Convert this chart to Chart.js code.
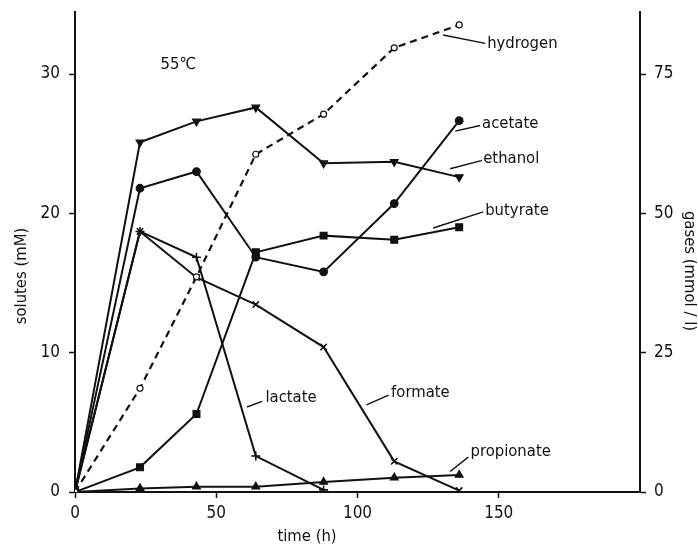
<!DOCTYPE html>
<html>
<head>
<meta charset="utf-8">
<script src="https://cdn.jsdelivr.net/npm/chart.js@4.4.1/dist/chart.umd.min.js"></script>
<style>
    body { margin: 0; background: #fff; }
    canvas { display: block; }
</style>
</head>
<body>
<canvas id="fermentation-chart" width="698" height="549"></canvas>
<script>
// データ (time in h, solutes in mM, hydrogen in mmol/l)
const times = [0, 23, 43, 64, 88, 113, 136];
const hydrogen = [0, 18.6, 38.6, 60.6, 67.8, 79.7, 83.8];
const acetate = [0, 21.8, 23.0, 16.85, 15.8, 20.7, 26.65];
const ethanol = [0, 25.1, 26.6, 27.6, 23.6, 23.7, 22.6];
const butyrate = [0, 1.77, 5.6, 17.2, 18.4, 18.1, 19.0];
const lactate = [0, 18.7, 16.85, 2.58, 0.15];
const formate = [0, 18.7, 15.4, 13.45, 10.4, 2.2, 0.1];
const propionate = [0, 0.26, 0.38, 0.38, 0.72, 1.03, 1.22];

// 目盛り
const xTicks = [0, 50, 100, 150];
const soluteTicks = [0, 10, 20, 30];
const gasTicks = [0, 25, 50, 75];

// 系列ラベル (text position and leader line, in data units: x h, y mM)
const seriesLabels = [
    { text: 'hydrogen', x: 145.9, y: 32.2, from: [130.3, 32.8], to: [145.2, 32.2] },
    { text: 'acetate', x: 144.1, y: 26.4, from: [134.6, 25.9], to: [143.4, 26.3] },
    { text: 'ethanol', x: 144.5, y: 23.9, from: [132.8, 23.2], to: [144.1, 23.8] },
    { text: 'butyrate', x: 145.2, y: 20.2, from: [126.8, 18.95], to: [144.5, 20.1] },
    { text: 'lactate', x: 67.4, y: 6.75, from: [60.9, 6.1], to: [66.2, 6.5] },
    { text: 'formate', x: 111.9, y: 7.1, from: [103.2, 6.25], to: [111.0, 6.96] },
    { text: 'propionate', x: 140.0, y: 2.87, from: [132.8, 1.47], to: [139.2, 2.5] },
    { text: '55\u2103', x: 30.3, y: 30.65 }
];

const FONT = "'DejaVu Sans Condensed', 'DejaVu Sans', sans-serif";
const INK = '#111';

function toPoints(values) {
    return values.map((v, i) => ({ x: times[i], y: v }));
}

function series(label, values, style, axis) {
    return Object.assign({
        label: label,
        data: toPoints(values),
        yAxisID: axis || 'y',
        borderColor: INK,
        backgroundColor: INK,
        pointBorderColor: INK,
        pointBackgroundColor: INK,
        borderWidth: 2,
        pointBorderWidth: 1.2,
        tension: 0
    }, style);
}

// ラベルと軸タイトルの描画
const labelPlugin = {
    id: 'seriesLabels',
    afterDraw(chart) {
        const ctx = chart.ctx;
        const xs = chart.scales.x;
        const ys = chart.scales.y;
        ctx.save();
        ctx.fillStyle = INK;
        ctx.strokeStyle = INK;
        ctx.lineWidth = 1.4;
        ctx.font = '16.5px ' + FONT;
        ctx.textAlign = 'left';
        ctx.textBaseline = 'middle';
        seriesLabels.forEach(l => {
            if (l.from) {
                ctx.beginPath();
                ctx.moveTo(xs.getPixelForValue(l.from[0]), ys.getPixelForValue(l.from[1]));
                ctx.lineTo(xs.getPixelForValue(l.to[0]), ys.getPixelForValue(l.to[1]));
                ctx.stroke();
            }
            ctx.fillText(l.text, xs.getPixelForValue(l.x), ys.getPixelForValue(l.y));
        });

        // 軸タイトル
        ctx.textAlign = 'center';
        ctx.fillText('time (h)', 307, 537);
        ctx.save();
        ctx.translate(22, 276);
        ctx.rotate(-Math.PI / 2);
        ctx.fillText('solutes (mM)', 0, 0);
        ctx.restore();
        ctx.save();
        ctx.translate(689, 271);
        ctx.rotate(Math.PI / 2);
        ctx.fillText('gases (mmol / l)', 0, 0);
        ctx.restore();
        ctx.restore();
    }
};

function axisStyle(tickValues, size, fitProp, pad) {
    return {
        grid: { display: true, drawOnChartArea: false, drawTicks: true, tickLength: 6, tickWidth: 1.5, tickColor: INK },
        border: { display: true, color: INK, width: 2 },
        ticks: { color: INK, font: { size: 17, family: FONT }, padding: pad, autoSkip: false, maxRotation: 0 },
        afterBuildTicks: scale => { scale.ticks = tickValues.map(v => ({ value: v })); },
        afterFit: scale => {
            scale[fitProp] = size;
            scale.paddingTop = 0;
            scale.paddingBottom = 0;
            scale.paddingLeft = 0;
            scale.paddingRight = 0;
        }
    };
}

// グラフの作成
document.addEventListener('DOMContentLoaded', () => {
    const ctx = document.getElementById('fermentation-chart').getContext('2d');
    new Chart(ctx, {
        type: 'line',
        data: {
            datasets: [
                series('hydrogen', hydrogen, {
                    borderDash: [7, 5], borderWidth: 2.2,
                    pointStyle: 'circle', pointRadius: 3, pointBackgroundColor: '#fff'
                }, 'y2'),
                series('acetate', acetate, { pointStyle: 'circle', pointRadius: 3.8 }),
                series('ethanol', ethanol, { pointStyle: 'triangle', pointRotation: 180, pointRadius: 4.5 }),
                series('butyrate', butyrate, { pointStyle: 'rect', pointRadius: 4.8 }),
                series('lactate', lactate, { pointStyle: 'cross', pointRadius: 4.5, pointBorderWidth: 1.6 }),
                series('formate', formate, { pointStyle: 'crossRot', pointRadius: 4.5, pointBorderWidth: 1.6 }),
                series('propionate', propionate, { pointStyle: 'triangle', pointRadius: 4.5 })
            ]
        },
        options: {
            responsive: false,
            animation: false,
            layout: { padding: { top: 12, left: 0, right: 0, bottom: 0 } },
            plugins: {
                legend: { display: false },
                tooltip: { enabled: false }
            },
            scales: {
                x: Object.assign(axisStyle(xTicks, 57, 'height', 5), {
                    type: 'linear', min: 0, max: 200, position: 'bottom'
                }),
                y: Object.assign(axisStyle(soluteTicks, 75, 'width', 9), {
                    type: 'linear', min: 0, max: 34.45, position: 'left'
                }),
                y2: Object.assign(axisStyle(gasTicks, 58, 'width', 8), {
                    type: 'linear', min: 0, max: 34.45 * 2.5, position: 'right'
                })
            }
        },
        plugins: [labelPlugin]
    });
});
</script>
</body>
</html>
